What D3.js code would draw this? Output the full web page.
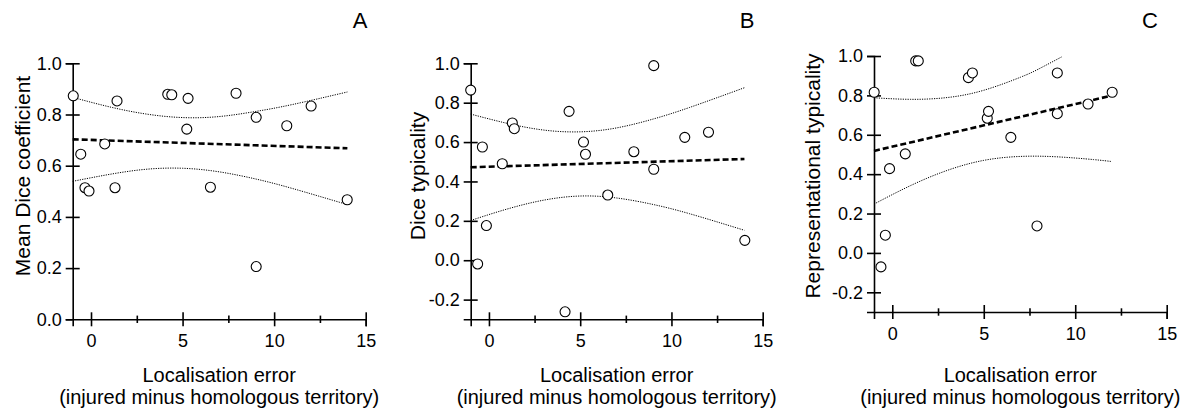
<!DOCTYPE html>
<html>
<head>
<meta charset="utf-8">
<script src="https://cdn.jsdelivr.net/npm/d3@7"></script>
<style>
  body { margin: 0; background: #fff; }
  svg { display: block; font-family: "Liberation Sans", Arial, sans-serif; }
</style>
</head>
<body>
<svg id="chart" width="1200" height="416"></svg>
<script>
// panel A - mean dice coefficient
let xA = [-0.97, -0.56, -0.33, -0.11, 0.75, 1.31, 1.42, 4.19, 4.41, 5.23, 5.30, 6.52, 7.92, 9.02, 9.02, 10.69, 12.02, 13.99]
let yA = [0.873, 0.645, 0.514, 0.501, 0.685, 0.514, 0.853, 0.879, 0.877, 0.743, 0.863, 0.516, 0.883, 0.789, 0.206, 0.756, 0.833, 0.467]
let fitXA = [-1, 14]
let fitYA = [0.703, 0.668]
let ciXA = [-1, 1, 3, 5, 7, 9, 11, 14]
let ciUpA = [0.867, 0.830, 0.802, 0.788, 0.792, 0.812, 0.839, 0.888]
let ciLoA = [0.539, 0.566, 0.586, 0.590, 0.576, 0.548, 0.511, 0.448]

// panel B - dice typicality
let xB = [-1.0, -0.62, -0.36, -0.14, 0.73, 1.28, 1.39, 4.17, 4.39, 5.18, 5.29, 6.51, 7.94, 9.03, 9.03, 10.73, 12.03, 14.02]
let yB = [0.864, -0.019, 0.575, 0.176, 0.490, 0.697, 0.668, -0.262, 0.756, 0.600, 0.538, 0.331, 0.551, 0.462, 0.988, 0.624, 0.650, 0.101]
let fitXB = [-1, 14]
let fitYB = [0.472, 0.514]
let ciXB = [-1, 1, 3, 5, 7, 9, 11, 14]
let ciUpB = [0.742, 0.695, 0.661, 0.652, 0.672, 0.717, 0.776, 0.876]
let ciLoB = [0.202, 0.260, 0.305, 0.326, 0.316, 0.283, 0.236, 0.152]

// panel C - representational typicality
let xC = [-0.99, -0.62, -0.38, -0.15, 0.71, 1.28, 1.42, 4.16, 4.38, 5.19, 5.26, 6.48, 7.91, 9.02, 9.02, 10.70, 12.02]
let yC = [0.816, -0.071, 0.090, 0.428, 0.503, 0.975, 0.975, 0.890, 0.914, 0.684, 0.719, 0.587, 0.137, 0.914, 0.707, 0.756, 0.816]
let fitXC = [-1, 12]
let fitYC = [0.518, 0.799]
let ciUpXC = [-1, 1, 3, 5, 7, 8, 9.25]
let ciUpC = [0.788, 0.780, 0.789, 0.826, 0.892, 0.934, 0.995]
let ciLoXC = [-1, 1, 3, 5, 7, 9, 11, 12]
let ciLoC = [0.248, 0.342, 0.419, 0.470, 0.490, 0.488, 0.474, 0.464]

let xTicks = [0, 5, 10, 15]
let xMinorTicks = [2.5, 7.5, 12.5]
let yTicksA = [0, 0.2, 0.4, 0.6, 0.8, 1.0]
let yTicksBC = [-0.2, 0, 0.2, 0.4, 0.6, 0.8, 1.0]

let xLabel1 = 'Localisation error'
let xLabel2 = '(injured minus homologous territory)'

let svg = d3.select('#chart')

let zip = (xs, ys) => xs.map((x, i) => [x, ys[i]])

// plain hyphen for negatives like the original
let fmt = (d) => d3.format('.1f')(d).replace('\u2212', '-')

let panels = [
    {
        letter: 'A', letterX: 360, yLabel: 'Mean Dice coefficient', yLabelX: 30,
        left: 72.7, right: 365.7, top: 63.3, bottom: 319.3, yDomain: [0, 1], yTicks: yTicksA,
        points: zip(xA, yA), fit: zip(fitXA, fitYA),
        ciUp: zip(ciXA, ciUpA), ciLo: zip(ciXA, ciLoA)
    },
    {
        letter: 'B', letterX: 747, yLabel: 'Dice typicality', yLabelX: 425,
        left: 470.7, right: 762.7, top: 63.3, bottom: 319.3, yDomain: [-0.3, 1], yTicks: yTicksBC,
        points: zip(xB, yB), fit: zip(fitXB, fitYB),
        ciUp: zip(ciXB, ciUpB), ciLo: zip(ciXB, ciLoB)
    },
    {
        letter: 'C', letterX: 1150, yLabel: 'Representational typicality', yLabelX: 820,
        left: 874, right: 1166.7, top: 56, bottom: 312, yDomain: [-0.3, 1], yTicks: yTicksBC,
        points: zip(xC, yC), fit: zip(fitXC, fitYC),
        ciUp: zip(ciUpXC, ciUpC), ciLo: zip(ciLoXC, ciLoC)
    }
]

let drawPanel = (p) => {
    let xScale = d3.scaleLinear().domain([-1, 15]).range([p.left, p.right])
    let yScale = d3.scaleLinear().domain(p.yDomain).range([p.bottom, p.top])

    let g = svg.append('g')

    // x axis, ticks crossing the line
    let xAxis = g.append('g')
        .attr('transform', 'translate(0,' + p.bottom + ')')
        .call(d3.axisBottom(xScale).tickValues(xTicks).tickSizeOuter(0).tickSize(7).tickPadding(8))
    xAxis.selectAll('.tick line').attr('y1', -7).attr('y2', 7)
    let minor = g.append('g')
        .attr('transform', 'translate(0,' + p.bottom + ')')
        .call(d3.axisBottom(xScale).tickValues(xMinorTicks).tickSizeOuter(0).tickFormat(''))
    minor.select('.domain').remove()
    minor.selectAll('.tick line').attr('y1', -3.7).attr('y2', 3.7)

    // y axis
    let yAxis = g.append('g')
        .attr('transform', 'translate(' + p.left + ',0)')
        .call(d3.axisLeft(yScale).tickValues(p.yTicks).tickSizeOuter(0).tickSize(7).tickPadding(4)
            .tickFormat(fmt))
    yAxis.selectAll('.tick line').attr('x1', -7).attr('x2', d => d === 0 && p.yDomain[0] === 0 ? 0 : 7)

    g.selectAll('.domain, .tick line').attr('stroke', '#000').attr('stroke-width', 1.6)
    g.selectAll('.tick text').attr('fill', '#000').style('font-size', '18px')

    // confidence band
    let line = d3.line().x(d => xScale(d[0])).y(d => yScale(d[1]))
    let curve = d3.line().x(d => xScale(d[0])).y(d => yScale(d[1])).curve(d3.curveNatural)
    ;[p.ciUp, p.ciLo].forEach(band => {
        g.append('path')
            .attr('d', curve(band))
            .attr('fill', 'none')
            .attr('stroke', '#000')
            .attr('stroke-width', 1)
            .attr('stroke-dasharray', '1.2,1.2')
    })

    // regression line
    g.append('path')
        .attr('d', line(p.fit))
        .attr('fill', 'none')
        .attr('stroke', '#000')
        .attr('stroke-width', 2.6)
        .attr('stroke-dasharray', '6,3')

    g.selectAll('circle')
        .data(p.points)
        .enter()
        .append('circle')
        .attr('cx', d => xScale(d[0]))
        .attr('cy', d => yScale(d[1]))
        .attr('r', 5)
        .attr('fill', '#fff')
        .attr('stroke', '#000')
        .attr('stroke-width', 1.1)

    // labels
    svg.append('text')
        .attr('x', p.letterX)
        .attr('y', 28)
        .attr('text-anchor', 'middle')
        .style('font-size', '22px')
        .text(p.letter)

    svg.append('text')
        .attr('transform', 'translate(' + p.yLabelX + ',176) rotate(-90)')
        .attr('text-anchor', 'middle')
        .style('font-size', '21px')
        .text(p.yLabel)

    let cx = (p.left + p.right) / 2
    svg.append('text')
        .attr('x', cx).attr('y', 381.5)
        .attr('text-anchor', 'middle')
        .style('font-size', '20px')
        .text(xLabel1)
    svg.append('text')
        .attr('x', cx).attr('y', 403.5)
        .attr('text-anchor', 'middle')
        .style('font-size', '20px')
        .text(xLabel2)
}

panels.forEach(drawPanel)
</script>
</body>
</html>
